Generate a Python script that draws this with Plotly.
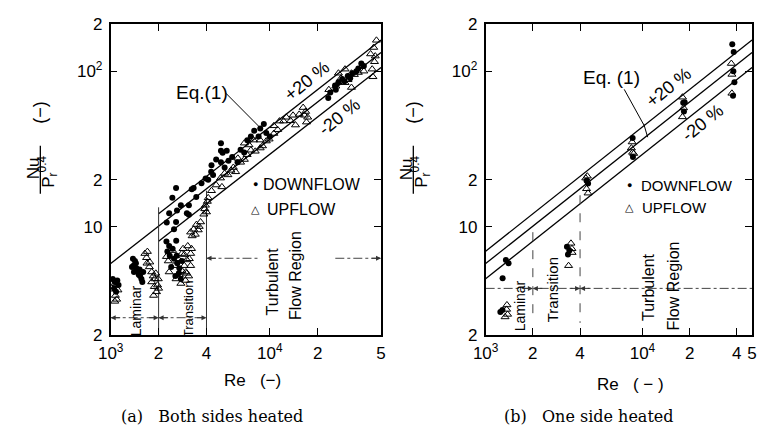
import math
import plotly.graph_objects as go

# ---------------- data ----------------
# Eq.(1) and +-20 % band (end points)
a_eq_re = [1000, 50000]
a_eq_nu = [5.78, 132.0]
a_band_re = [2000, 50000]
a_up20_nu = [12.07, 158.5]
a_dn20_nu = [8.05, 105.7]

b_eq_re = [1000, 50000]
b_eq_nu = [5.78, 132.0]
b_up20_nu = [6.94, 158.5]
b_dn20_nu = [4.62, 105.7]

# (a) Both sides heated
a_down_re = [1030, 1060, 1100, 1120, 1050, 1080,
             1380, 1420, 1390, 1450, 1480, 1400, 1500, 1530, 1560, 1580, 1520, 1600, 1440, 1360,
             2240, 2330, 2270, 2580, 2450, 2600, 2620, 2700, 2760, 2500, 2680, 2800, 2400, 2550, 2350,
             2250, 2330, 2440, 2575, 2610, 2760, 2575, 2500, 3010, 3100, 3100, 3230, 3320, 3450,
             3720, 3950, 4100, 4280, 4400, 4600, 4300, 4930, 4930, 5050, 5360, 4930, 5200, 5500,
             6270, 6550, 6900, 7220, 7600, 7980, 8710, 9170, 8500, 9500, 10000, 5800,
             23300, 24000, 25700, 27000, 28500, 30900, 33100, 35000, 37600, 39000, 26000, 29500,
             32000, 36000]
a_down_nu = [4.6, 4.4, 4.5, 4.2, 4.0, 3.8,
             6.2, 6.0, 5.6, 5.4, 5.2, 5.1, 4.9, 4.8, 4.6, 4.4, 5.3, 5.1, 5.8, 5.5,
             8.0, 7.5, 6.9, 8.1, 7.2, 6.5, 5.8, 5.4, 4.6, 6.2, 5.0, 6.0, 5.5, 4.8, 6.5,
             10.6, 12.2, 15.3, 17.7, 12.7, 13.7, 10.7, 9.6, 12.2, 13.7, 11.9, 17.4, 17.7, 15.5,
             19.0, 20.4, 20.0, 22.5, 21.5, 27.0, 24.8, 34.4, 30.8, 29.9, 30.8, 25.9, 24.0, 26.5,
             25.9, 31.2, 30.0, 35.9, 38.0, 41.4, 42.7, 45.7, 38.0, 40.0, 38.0, 28.0,
             67.1, 73.0, 81.0, 85.0, 89.0, 93.0, 97.0, 100.0, 112.0, 108.0, 76.0, 86.0,
             90.0, 104.0]
a_up_re = [1020, 1040, 1070, 1090, 1110, 1000, 1060,
           1640, 1680, 1700, 1690, 1750, 1810, 1850, 1890, 1970, 1940, 1810, 1920, 1990, 1880,
           1760, 2000, 1860,
           2240, 2300, 2500, 2800, 3010, 3180, 2970, 3090, 2760, 2900, 2650, 3180, 2330, 2575,
           2850, 3050, 2700, 2950, 3120, 2450, 2900, 2800, 3000, 3220,
           3180, 3320, 3460, 3670, 3400, 3250, 3550, 3600,
           3940, 4000, 3900, 4050, 4100, 3850,
           4300, 4600, 4900, 5450, 5700, 6100, 6550, 6920, 7200, 7600, 6920, 7400, 7900, 8700,
           8700, 9500, 10600, 10600, 11500, 12200, 12700, 11200, 13500, 14000, 15300, 16200,
           16800, 17000, 17300, 16500, 14500,
           5000, 5200, 5900, 6300, 8100, 9000, 9900,
           23500, 26000, 27000, 28000, 29700, 29700, 31000, 32600, 32600, 34000, 36000, 37600,
           39000, 43000, 44000, 45000, 46800, 45500, 44500, 46000]
a_up_nu = [4.3, 3.95, 3.6, 3.4, 3.9, 4.1, 3.3,
           6.7, 6.3, 6.9, 5.8, 5.5, 5.1, 4.8, 4.6, 4.2, 3.8, 4.4, 5.0, 4.6, 4.1,
           5.9, 4.0, 3.6,
           6.4, 6.0, 5.6, 6.7, 6.1, 6.7, 5.1, 4.8, 4.3, 5.6, 6.2, 5.6, 5.1, 4.6,
           7.2, 7.5, 4.9, 4.5, 6.2, 7.0, 6.6, 5.2, 5.0, 7.2,
           9.2, 9.6, 10.3, 10.7, 8.9, 8.7, 9.5, 10.0,
           13.7, 12.4, 13.0, 14.5, 15.3, 12.0,
           17.0, 18.5, 20.5, 21.5, 23.0, 22.5, 25.9, 27.0, 29.0, 31.0, 34.4, 33.5, 36.0, 32.0,
           36.0, 35.5, 39.7, 44.5, 47.7, 47.7, 50.5, 42.0, 48.0, 52.0, 52.7, 58.3,
           55.0, 47.0, 50.5, 52.0, 45.0,
           18.0, 22.0, 24.0, 27.5, 30.5, 33.0, 36.5,
           76.0, 80.0, 97.0, 90.0, 103.0, 84.3, 88.0, 97.0, 78.5, 95.0, 98.0, 107.0,
           100.0, 129.0, 103.0, 142.0, 158.0, 115.0, 92.0, 125.0]

# (b) One side heated
b_down_re = [1346, 1400, 1283, 1241, 1280, 3300, 3420, 3350, 4400, 4500, 8660, 8700,
             18200, 18600, 18400, 37400, 38200, 38000, 38600, 37800]
b_down_nu = [6.1, 5.8, 4.64, 2.82, 2.9, 7.4, 7.0, 6.6, 19.7, 18.9, 37.2, 28.0,
             62.7, 63.0, 55.0, 149.0, 133.0, 100.0, 84.8, 69.5]
b_up_re = [1367, 1380, 1330, 1360, 3500, 3550, 3560, 3380, 4450, 4350, 4500, 4400,
           8600, 8500, 8650, 8800, 18000, 18300, 18000, 36900, 37200, 37200]
b_up_nu = [3.13, 2.72, 2.62, 2.93, 7.8, 7.2, 6.8, 5.6, 21.1, 20.5, 16.4, 17.5,
           35.0, 32.0, 30.0, 29.5, 68.0, 58.0, 50.8, 112.0, 95.3, 72.0]

# region boundaries
a_bound_re = [2000, 4000]
a_bound_top = [13.3, 17.0]
b_bound_re = [2000, 4000]
b_bound_top = [9.2, 15.9]
b_bound_bot = [2.48, 2.4]

x_tickvals_a = [1000, 2000, 4000, 10000, 20000, 50000]
x_ticktext_a = ["10<sup>3</sup>", "2", "4", "10<sup>4</sup>", "2", "5"]
x_tickvals_b = [1000, 2000, 4000, 10000, 20000, 40000, 50000]
x_ticktext_b = ["10<sup>3</sup>", "2", "4", "10<sup>4</sup>", "2", "4", "5"]
y_tickvals = [2, 10, 20, 100, 200]
y_ticktext = ["2", "10", "2", "10<sup>2</sup>", "2"]

# ---------------- figure ----------------
W, H = 762, 439
SANS = "Liberation Sans, Arial, sans-serif"
SERIF = "DejaVu Serif, Liberation Serif, serif"
BLACK = "black"


def px(x):
    return x / W


def py(y):
    return 1 - y / H


fig = go.Figure()


def line(xa, ya, re, nu, width=1.3, dash="solid", color=BLACK):
    fig.add_trace(go.Scatter(x=re, y=nu, mode="lines", xaxis=xa, yaxis=ya,
                             line=dict(color=color, width=width, dash=dash),
                             hoverinfo="skip"))


# (a) lines
line("x", "y", a_eq_re, a_eq_nu)
line("x", "y", a_band_re, a_up20_nu)
line("x", "y", a_band_re, a_dn20_nu)
for r, t in zip(a_bound_re, a_bound_top):
    line("x", "y", [r, r], [t, 2], width=1, color="#333")
# (b) lines
line("x2", "y2", b_eq_re, b_eq_nu)
line("x2", "y2", b_eq_re, b_up20_nu)
line("x2", "y2", b_eq_re, b_dn20_nu)
for r, t, b in zip(b_bound_re, b_bound_top, b_bound_bot):
    line("x2", "y2", [r, r], [t, b], width=1, dash="dash", color="#444")

# region arrows (dash-dot lines)
a_lam_y = 2.59
a_turb_y = 6.25
line("x", "y", [1000, 2000], [a_lam_y, a_lam_y], width=1, dash="dashdot", color="#444")
line("x", "y", [2000, 4000], [a_lam_y, a_lam_y], width=1, dash="dashdot", color="#444")
line("x", "y", [4000, 8690], [a_turb_y, a_turb_y], width=1, dash="dashdot", color="#444")
line("x", "y", [25800, 50000], [a_turb_y, a_turb_y], width=1, dash="dashdot", color="#444")
b_reg_y = 4.0
line("x2", "y2", [1000, 50000], [b_reg_y, b_reg_y], width=1, dash="dashdot", color="#444")


# markers
def pts(xa, ya, re, nu, kind):
    if kind == "down":
        m = dict(symbol="circle", size=6, color=BLACK, line=dict(width=0))
    else:
        m = dict(symbol="triangle-up-open", size=7, color=BLACK, line=dict(width=1, color=BLACK))
    fig.add_trace(go.Scatter(x=re, y=nu, mode="markers", xaxis=xa, yaxis=ya,
                             marker=m, hoverinfo="skip"))


pts("x", "y", a_up_re, a_up_nu, "up")
pts("x", "y", a_down_re, a_down_nu, "down")
pts("x2", "y2", b_up_re, b_up_nu, "up")
pts("x2", "y2", b_down_re, b_down_nu, "down")

ax_common = dict(type="log", showline=True, linecolor=BLACK, linewidth=1.5, mirror="ticks",
                 ticks="inside", ticklen=7, tickwidth=1.2, tickcolor=BLACK, showgrid=False,
                 zeroline=False, tickfont=dict(family=SANS, size=17, color=BLACK))
xr = [3 - 0.0005, math.log10(5e4) + 0.0005]
yr = [math.log10(2) - 0.0005, math.log10(200) + 0.0005]
ydom = [1 - 341 / H, 1 - 16 / H]
fig.update_layout(
    width=W, height=H, margin=dict(l=0, r=0, t=0, b=0),
    plot_bgcolor="white", paper_bgcolor="white", showlegend=False,
    xaxis=dict(ax_common, domain=[px(100), px(377)], range=xr, anchor="y",
               tickvals=x_tickvals_a, ticktext=x_ticktext_a, ticklabelstandoff=2),
    yaxis=dict(ax_common, domain=ydom, range=yr, anchor="x",
               tickvals=y_tickvals, ticktext=y_ticktext, ticklabelstandoff=3),
    xaxis2=dict(ax_common, domain=[px(484), px(757)], range=xr, anchor="y2",
                tickvals=x_tickvals_b, ticktext=x_ticktext_b, ticklabelstandoff=2),
    yaxis2=dict(ax_common, domain=ydom, range=yr, anchor="x2",
                tickvals=y_tickvals, ticktext=y_ticktext, ticklabelstandoff=3),
)

ann = []


def text(x, y, s, size=17, angle=0, family=SANS, xanchor="center"):
    ann.append(dict(x=px(x), y=py(y), xref="paper", yref="paper", text=s, showarrow=False,
                    textangle=angle, xanchor=xanchor, yanchor="middle",
                    font=dict(family=family, size=size, color=BLACK)))


def arrowhead(xa, ya, re, nu, direction):
    ann.append(dict(x=math.log10(re), y=math.log10(nu), xref=xa, yref=ya, text="",
                    showarrow=True, arrowhead=2, arrowsize=1, arrowwidth=1, arrowcolor="#333",
                    ax=-11 * direction, ay=0, standoff=0))


# y titles (fraction)
for bx in (28, 410):
    text(bx - 7, 167, "Nu", size=17, angle=-90)
    text(bx + 8, 170, "P<sub>r</sub><sup>0.4</sup>", size=17, angle=-90)
    text(bx, 108, "(−)", size=18, angle=-90)
    fig.add_shape(type="line", xref="paper", yref="paper", x0=px(bx), x1=px(bx),
                  y0=py(143), y1=py(193), line=dict(color=BLACK, width=1.3))

# x titles & captions
text(245, 388, "Re&nbsp;&nbsp;&nbsp;(−)", size=17)
text(632, 392, "Re&nbsp;&nbsp;&nbsp;( − )", size=17)
text(204, 426, "(a)&nbsp;&nbsp;&nbsp;Both sides heated", size=16, family=SERIF)
text(590, 426, "(b)&nbsp;&nbsp;&nbsp;One side heated", size=16, family=SERIF)

# legends
text(248, 183, "●", size=9)
text(248, 210, "△", size=11, family="DejaVu Sans")
text(254, 183, "DOWNFLOW", size=16, xanchor="left")
text(258, 210, "UPFLOW", size=16, xanchor="left")
text(631, 184, "●", size=9)
text(631, 208, "△", size=11, family="DejaVu Sans")
text(641, 184, "DOWNFLOW", size=15, xanchor="left")
text(642, 208, "UPFLOW", size=15, xanchor="left")

# Eq.(1) labels and leaders
text(194, 87, "Eq.(1)", size=19)
fig.add_shape(type="line", xref="paper", yref="paper", x0=px(218), y0=py(88), x1=px(255),
              y1=py(126), line=dict(color=BLACK, width=1))
text(613, 72, "Eq. (1)", size=19)
fig.add_shape(type="line", xref="paper", yref="paper", x0=px(626), y0=py(84), x1=px(646),
              y1=py(121), line=dict(color=BLACK, width=1))
fig.add_shape(type="line", xref="paper", yref="paper", x0=px(646), y0=py(120), x1=px(650),
              y1=py(134), line=dict(color=BLACK, width=1))

# +-20 %
ang = -math.degrees(math.atan(0.8))
text(301, 75, "+20 %", size=18, angle=ang)
text(334, 113, "-20 %", size=18, angle=ang)
text(672, 82, "+20 %", size=18, angle=ang)
text(706, 119, "-20 %", size=18, angle=ang)

# region labels
text(126, 316, "Laminar", size=14, angle=-90)
text(180, 313, "Transition", size=13, angle=-90)
text(266, 285, "Turbulent", size=16, angle=-90)
text(290, 279, "Flow Region", size=16, angle=-90)
text(519, 310, "Laminar", size=14, angle=-90)
text(552, 293, "Transition", size=15, angle=-90)
text(651, 291, "Turbulent", size=16, angle=-90)
text(676, 290, "Flow Region", size=16, angle=-90)

# arrowheads (a)
arrowhead("x", "y", 1000, a_lam_y, -1)
arrowhead("x", "y", 2000, a_lam_y, 1)
arrowhead("x", "y", 2000, a_lam_y, -1)
arrowhead("x", "y", 4000, a_lam_y, 1)
arrowhead("x", "y", 4000, a_turb_y, -1)
arrowhead("x", "y", 50000, a_turb_y, 1)
# arrowheads (b)
arrowhead("x2", "y2", 2000, b_reg_y, 1)
arrowhead("x2", "y2", 2000, b_reg_y, -1)
arrowhead("x2", "y2", 4000, b_reg_y, 1)
arrowhead("x2", "y2", 4000, b_reg_y, -1)

fig.update_layout(annotations=ann)
fig.write_html("out.html")
